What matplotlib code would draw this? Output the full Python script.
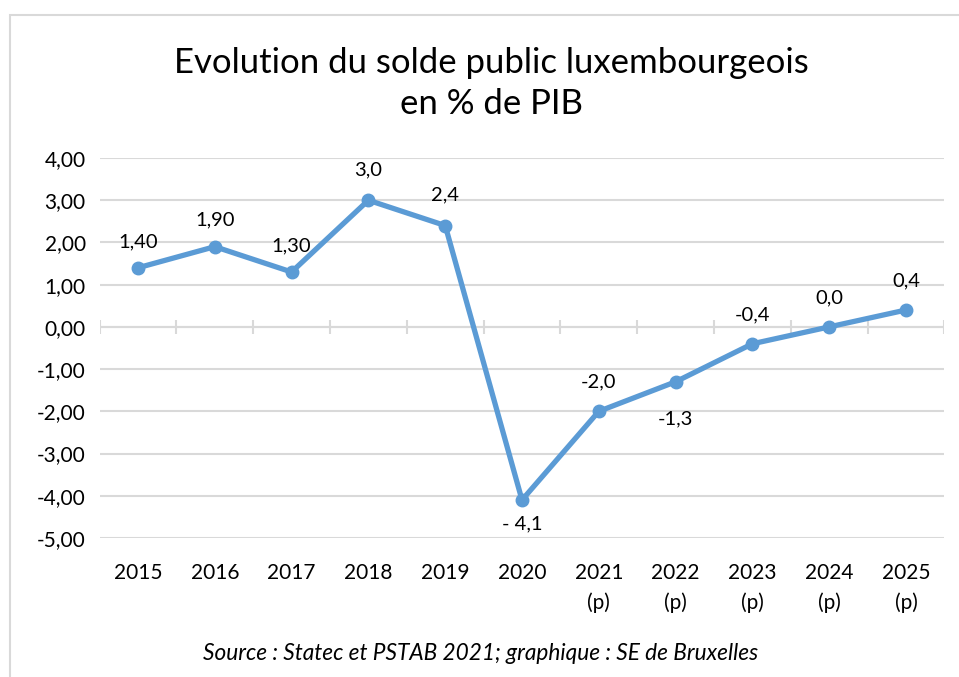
import numpy as np
import matplotlib
matplotlib.use("Agg")
import matplotlib.pyplot as plt
from matplotlib.patches import Rectangle

plt.rcParams['font.family'] = ['Lato', 'DejaVu Sans']

# DATA
years = ["2015", "2016", "2017", "2018", "2019", "2020",
         "2021\n(p)", "2022\n(p)", "2023\n(p)", "2024\n(p)", "2025\n(p)"]
solde = [1.4, 1.9, 1.3, 3.0, 2.4, -4.1, -2.0, -1.3, -0.4, 0.0, 0.4]
pointLabels = ["1,40", "1,90", "1,30", "3,0", "2,4", "- 4,1",
               "-2,0", "-1,3", "-0,4", "0,0", "0,4"]
yticks = [4, 3, 2, 1, 0, -1, -2, -3, -4, -5]

# label placement, offset in points (positive = above)
labelOffsets = [19, 19, 19, 22, 22, -17, 21, -27, 21, 21, 21]

blue = "#5B9BD5"
grey = "#D9D9D9"

fig = plt.figure(figsize=(9.59, 6.77), dpi=100)
ax = fig.add_axes([99.6 / 959, 1 - 538 / 677, (944.4 - 99.6) / 959, (538 - 158) / 677])

x = np.arange(len(years))
ax.plot(x, solde, color=blue, linewidth=3.8, marker='o', markersize=9,
        solid_capstyle='round', zorder=3)

for i in range(len(solde)):
    ax.annotate(pointLabels[i], (x[i], solde[i]), xytext=(0, labelOffsets[i]),
                textcoords='offset points', ha='center', va='center',
                fontsize=14.5, color='#000000')

ax.set_xlim(-0.5, len(years) - 0.5)
ax.set_ylim(-5, 4)
ax.set_yticks(yticks)
ax.set_yticklabels([("%.2f" % v).replace('.', ',') for v in yticks], fontsize=15)
ax.set_xticks(x)
ax.set_xticklabels(years, fontsize=15, linespacing=1.55)
ax.tick_params(axis='x', length=0, pad=18)
ax.tick_params(axis='y', length=0, pad=10)

for s in ax.spines.values():
    s.set_visible(False)
ax.grid(axis='y', color=grey, linewidth=1.5, zorder=0)
ax.set_axisbelow(True)

# zero axis with crossing tick marks between categories
ax.axhline(0, color=grey, linewidth=1.5, zorder=1)
bounds = np.arange(len(years) + 1) - 0.5
ax.vlines(bounds, -0.16, 0.16, color=grey, linewidth=1.5, zorder=1)

fig.text(491 / 959, 1 - 63 / 677, "Evolution du solde public luxembourgeois",
         ha='center', va='center', fontsize=25)
fig.text(491 / 959, 1 - 104 / 677, "en % de PIB",
         ha='center', va='center', fontsize=25)
fig.text(481 / 959, 1 - 653 / 677, "Source : Statec et PSTAB 2021; graphique : SE de Bruxelles",
         ha='center', va='center', fontsize=16.3, style='italic')

fig.add_artist(Rectangle((10 / 959, -0.1), 1.2, 1.1 - 15 / 677, transform=fig.transFigure,
                         fill=False, edgecolor=grey, linewidth=1.5, clip_on=False))

fig.savefig("out.png", dpi=100)
